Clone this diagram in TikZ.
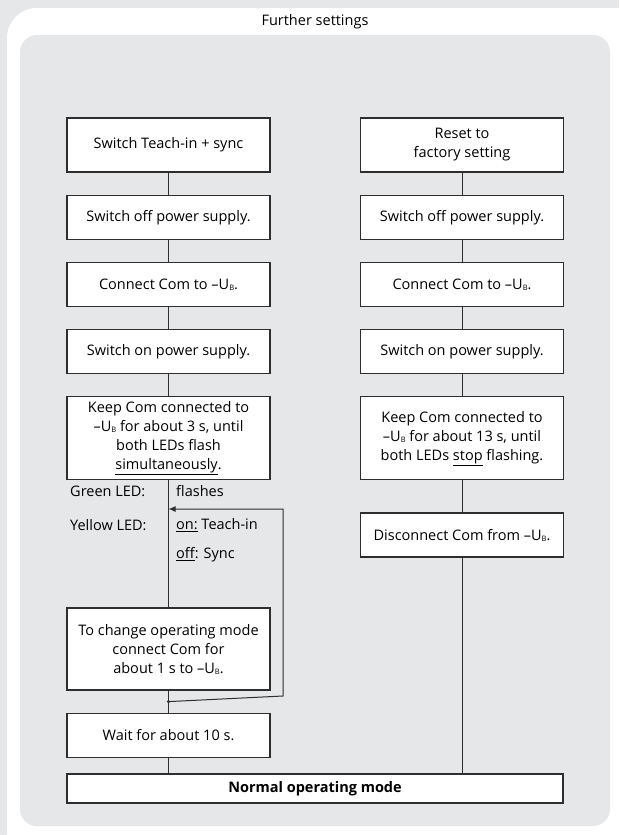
\documentclass[tikz,border=0pt]{standalone}
\usepackage{fontspec}
\setmainfont{Open Sans}
\usepackage{tikz}
\usetikzlibrary{arrows.meta,positioning,calc}
\definecolor{panelgray}{HTML}{E6E7E9}
\definecolor{boxline}{HTML}{2E2E2E}
\newcommand{\UB}{\mbox{–U\raisebox{-1pt}{\fontsize{7.5}{8}\selectfont B}}}
\tikzset{%
  >={Latex[width=6pt,length=7pt]},
            base/.style = {rectangle, draw=boxline, line width=1.2pt, fill=white,
                           minimum width=203pt, minimum height=44pt, inner sep=0pt,
                           text centered, align=center,
                           font=\fontsize{14.5}{19}\selectfont},
  head/.style = {base, minimum height=54pt},
  keep/.style = {base, minimum height=83pt},
  wire/.style = {draw=boxline, line width=1pt},
  ledtxt/.style = {anchor=west, inner sep=0pt, font=\fontsize{14.5}{19}\selectfont},
}
\begin{document}
\begin{tikzpicture}[x=1pt, y=1pt]
  \useasboundingbox (0,0) rectangle (619,-835);
  % background panels
  \fill[panelgray] (0,0) rectangle (619,-835);
  \fill[white, rounded corners=30pt] (7,-8) rectangle (660,-860);
  \fill[panelgray, rounded corners=17pt] (20,-35) rectangle (610,-826);
  \node (title) [font=\fontsize{14.5}{19}\selectfont] at (315,-22) {Further settings};

  % left branch: teach-in + sync
  \node (tiHead)   [head] at (168.5,-145)              {Switch Teach-in + sync};
  \node (tiOff)    [base, below=22pt of tiHead]        {Switch off power supply.};
  \node (tiCom)    [base, below=22pt of tiOff]         {Connect Com to \UB.};
  \node (tiOn)     [base, below=22pt of tiCom]         {Switch on power supply.};
  \node (tiKeep)   [keep, below=22pt of tiOn]          {Keep Com connected to\\ \UB{} for about 3 s, until\\ both LEDs flash\\ \underline{simultaneously}.};
  \node (tiChange) [keep, minimum height=82pt, below=127pt of tiKeep] {To change operating mode\\ connect Com for\\ about 1 s to \UB.};
  \node (tiWait)   [base, below=22pt of tiChange]      {Wait for about 10 s.};

  % right branch: reset
  \node (rsHead)   [head] at (462,-145)                {Reset to\\ factory setting};
  \node (rsOff)    [base, below=22pt of rsHead]        {Switch off power supply.};
  \node (rsCom)    [base, below=22pt of rsOff]         {Connect Com to \UB.};
  \node (rsOn)     [base, below=22pt of rsCom]         {Switch on power supply.};
  \node (rsKeep)   [keep, below=22pt of rsOn]          {Keep Com connected to\\ \UB{} for about 13 s, until\\ both LEDs \underline{stop} flashing.};
  \node (rsDis)    [base, below=32pt of rsKeep]        {Disconnect Com from \UB.};

  \node (nMode)    [base, minimum width=496pt, minimum height=29pt,
                    font=\fontsize{14.5}{19}\selectfont\bfseries] at (315,-788.5) {Normal operating mode};

  % LED states
  \node (gLed)  [ledtxt] at (70,-491)  {Green LED:};
  \node (yLed)  [ledtxt] at (70,-525)  {Yellow LED:};
  \node (gFl)   [ledtxt] at (176,-491) {flashes};
  \node (yOn)   [ledtxt] at (176,-525) {\underline{on:} Teach-in};
  \node (yOff)  [ledtxt] at (176,-555) {\underline{off}: Sync};

  % connectors
  \draw[wire] (tiHead) -- (tiOff);
  \draw[wire] (tiOff) -- (tiCom);
  \draw[wire] (tiCom) -- (tiOn);
  \draw[wire] (tiOn) -- (tiKeep);
  \draw[wire] (tiKeep) -- (tiChange);
  \draw[wire] (tiChange) -- (tiWait);
  \draw[wire] (tiWait) -- (tiWait |- nMode.north);

  \draw[wire] (rsHead) -- (rsOff);
  \draw[wire] (rsOff) -- (rsCom);
  \draw[wire] (rsCom) -- (rsOn);
  \draw[wire] (rsOn) -- (rsKeep);
  \draw[wire] (rsKeep) -- (rsDis);
  \draw[wire] (rsDis) -- (rsDis |- nMode.north);

  % mode loop
  \coordinate (jLoop) at ($(tiChange.south)!0.5!(tiWait.north)$);
  \coordinate (loopR) at (283,-696);
  \coordinate (tiArrow) at (168.5,-509);
  \draw[wire, ->] (jLoop) -- (loopR) |- (tiArrow);
  \fill[boxline] (jLoop) circle (1.8pt);
\end{tikzpicture}
\end{document}
